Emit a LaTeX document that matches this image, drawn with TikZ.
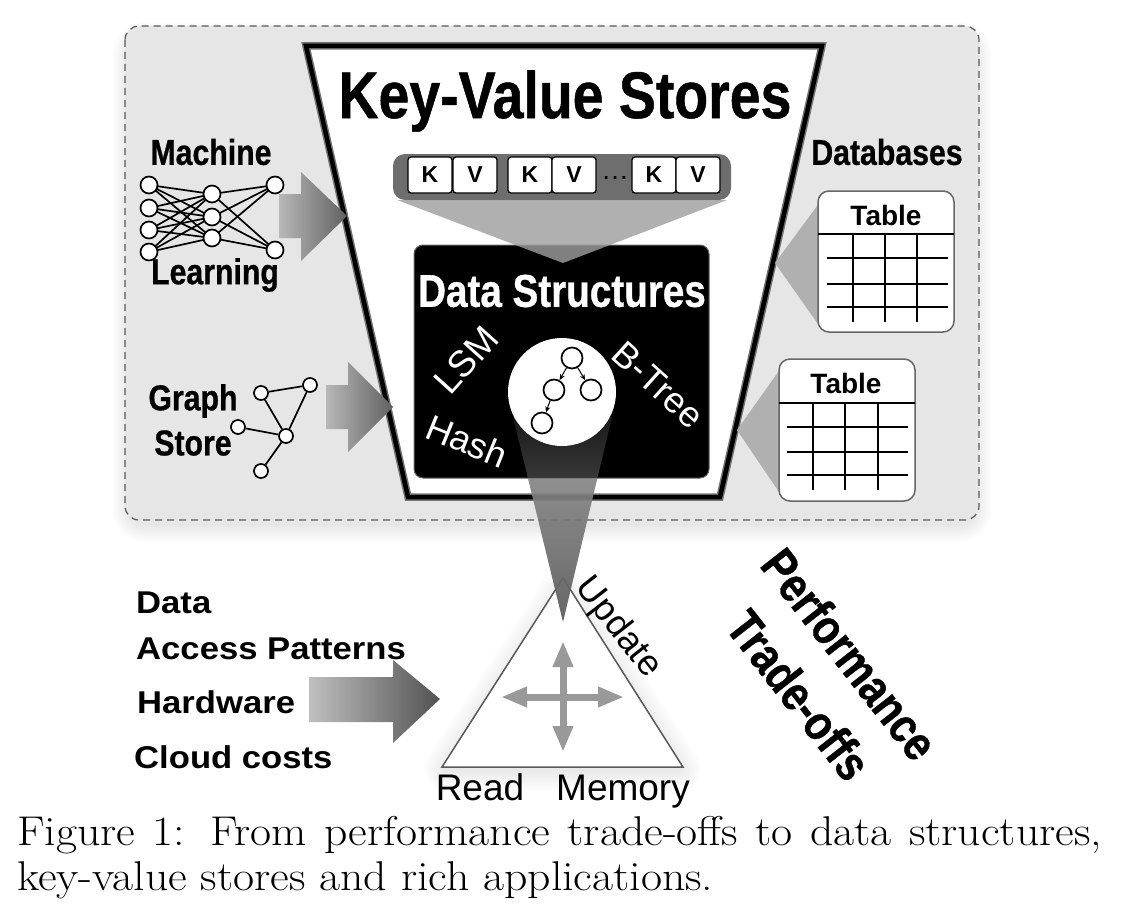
\documentclass[tikz,border=0pt]{standalone}
\usepackage{fontspec}
\usetikzlibrary{arrows.meta,calc}
\newfontfamily\hv{Liberation Sans}
\newfontfamily\hvc[FakeStretch=0.84,BoldFeatures={FakeBold=0.7}]{Liberation Sans}
\newfontfamily\hvb[FakeStretch=1.1]{Liberation Sans}
\newfontfamily\capf[FakeStretch=1.1]{Latin Modern Roman}
\definecolor{boxgray}{HTML}{E6E6E6}
\definecolor{edgegray}{HTML}{666666}
\definecolor{lightcone}{HTML}{B0B0B0}
\tikzset{
 cond/.style={inner sep=0pt,font=\hvc\bfseries\fontsize{#1}{#1}\selectfont},
 plain/.style={inner sep=0pt,font=\hv\fontsize{#1}{#1}\selectfont},
 wide/.style={inner sep=0pt,anchor=west,font=\hvb\bfseries\fontsize{#1}{#1}\selectfont},
 nn/.style={circle,draw=black,fill=white,line width=1.7pt,minimum size=17pt,inner sep=0pt},
 gn/.style={circle,draw=black,fill=white,line width=1.7pt,minimum size=14pt,inner sep=0pt},
 tn/.style={circle,draw=black,fill=white,line width=1.7pt,minimum size=21pt,inner sep=0pt},
 kv/.style={draw=black,fill=white,rounded corners=3pt,line width=1.3pt,minimum width=44pt,minimum height=36pt,inner sep=0pt,font=\hv\bfseries\fontsize{23}{23}\selectfont},
 edge/.style={black,line width=1.7pt},
 grid/.style={black,line width=1.5pt},
 tablebox/.style={draw=edgegray,fill=white,rounded corners=11pt,line width=1.5pt},
 crossarrow/.style={draw=black!40,line width=7pt,{Triangle[length=26pt,width=19pt]}-{Triangle[length=26pt,width=19pt]}},
 captext/.style={inner sep=0pt,anchor=base west,font=\capf\fontsize{41.6}{45}\selectfont},
}
\begin{document}
\begin{tikzpicture}[x=1pt,y=-1pt]
\useasboundingbox (0,0) rectangle (1122,907);
\fill[white] (0,0) rectangle (1122,907);
% soft shadow of the panel
\foreach \w in {3,6,...,36}{
 \draw[black,opacity=.009,line width=\w pt,rounded corners=14pt,line join=round] (130,40) rectangle (974,524);
}
\draw[fill=boxgray,draw=black!65,line width=1.2pt,dash pattern=on 7pt off 5pt,rounded corners=14pt] (125,26) rectangle (979,520);

% funnel
\draw[black!55,line width=7.5pt,fill=white,miter limit=3] (306,46) -- (822,46) -- (720,497) -- (408,497) -- cycle;
\draw[black,line width=4.5pt,miter limit=3] (306,46) -- (822,46) -- (720,497) -- (408,497) -- cycle;
\node[cond=66] (title) at (565,101) {Key-Value Stores};

% KV bar
\fill[black!57,rounded corners=12pt] (393,154) rectangle (731,200);
\node[kv] (k1) at (430,175) {K};
\node[kv] (v1) at (475,175) {V};
\node[kv] (k2) at (530,175) {K};
\node[kv] (v2) at (574,175) {V};
\node[anchor=base,inner sep=0pt,font=\hv\fontsize{28}{28}\selectfont,text=black] (dots) at (615,179) {…};
\node[kv] (k3) at (654,175) {K};
\node[kv] (v3) at (698,175) {V};

% data structure panel
\draw[fill=black,draw=edgegray,line width=1pt,rounded corners=9pt] (414,245) rectangle (709,478);
\fill[black!38,opacity=.81] (397,200) -- (727,200) -- (563,263) -- cycle;
\node[cond=46,text=white] (ds) at (562,291) {Data Structures};
\node[plain=37,text=white,rotate=48] (lsm) at (466,360) {LSM};
\node[plain=36,text=white,rotate=-42] (btree) at (658,385) {B-Tree};
\node[plain=36,text=white,rotate=-22] (hash) at (467,441) {Hash};

% triangle
\foreach \w in {4,8,...,44}{
 \draw[black,opacity=.009,line width=\w pt,line join=round] (563,590) -- (446,769) -- (679,769) -- cycle;
}
\draw[fill=white,draw=black!65,line width=1.5pt,line join=miter] (563,578) -- (442,767) -- (683,767) -- cycle;

% zoom cone
\begin{scope}
\clip (414,417) rectangle (709,478);
\shade[top color=black!90,bottom color=black!50] (513,417) -- (612,417) -- (563,622) -- cycle;
\end{scope}
\begin{scope}
\clip (400,478) rectangle (730,640);
\shade[top color=black!40,bottom color=black!65,opacity=.92] (513,417) -- (612,417) -- (563,622) -- cycle;
\end{scope}
\fill[white] (562,392) circle (54pt);
\node[tn] (root) at (572,358) {};
\node[tn] (left) at (554,390) {};
\node[tn] (right) at (591,390) {};
\node[tn] (leaf) at (542,423) {};
\draw[black,line width=1pt,-{Stealth[length=6pt,width=5pt]}] (root) -- (left);
\draw[black,line width=1pt,-{Stealth[length=6pt,width=5pt]}] (root) -- (right);
\draw[black,line width=1pt,-{Stealth[length=6pt,width=5pt]}] (left) -- (leaf);

% machine learning
\node[cond=36] (ml1) at (211,152) {Machine};
\node[cond=36] (ml2) at (215,275) {Learning};
\foreach \n/\x/\y in {a1/149/185,a2/149/208,a3/149/230,a4/149/252,b1/212/194,b2/212/217,b3/212/238,c1/275/185,c2/275/250}{
 \coordinate (\n) at (\x,\y);
}
\foreach \a in {a1,a2,a3,a4}\foreach \b in {b1,b2,b3}{\draw[edge] (\a) -- (\b);}
\foreach \b in {b1,b2,b3}\foreach \c in {c1,c2}{\draw[edge] (\b) -- (\c);}
\foreach \n in {a1,a2,a3,a4,b1,b2,b3,c1,c2}{\node[nn] at (\n) {};}
\shade[left color=black!28,right color=black!62] (279,194) -- (301,194) -- (301,172) -- (347,216) -- (301,261) -- (301,238) -- (279,238) -- cycle;

% graph store
\node[cond=36] (g1) at (193,401) {Graph};
\node[cond=36] (g2) at (193,443) {Store};
\node[gn] (n1) at (261,393) {};
\node[gn] (n2) at (310,385) {};
\node[gn] (n3) at (238,427) {};
\node[gn] (n4) at (286,436) {};
\node[gn] (n5) at (261,471) {};
\draw[edge] (n1) -- (n2);
\draw[edge] (n1) -- (n4);
\draw[edge] (n2) -- (n4);
\draw[edge] (n3) -- (n4);
\draw[edge] (n5) -- (n4);
\shade[left color=black!28,right color=black!62] (326,385) -- (348,385) -- (348,362) -- (393,407) -- (348,452) -- (348,429) -- (326,429) -- cycle;

% databases
\node[cond=36] (db) at (887,152) {Databases};
\fill[lightcone] (775,263) -- (820,202) -- (820,327) -- cycle;
\draw[tablebox] (818,191) rectangle (954,332);
\node[inner sep=0pt,font=\hv\bfseries\fontsize{28}{28}\selectfont] (t1) at (886,215) {Table};
\draw[grid] (818,234) -- (954,234);
\foreach \x in {853,885,917}{\draw[grid] (\x,234) -- (\x,322);}
\foreach \y in {258,284,307}{\draw[grid] (827,\y) -- (948,\y);}
\fill[lightcone] (737,430) -- (781,368) -- (781,495) -- cycle;
\draw[tablebox] (779,359) rectangle (915,501);
\node[inner sep=0pt,font=\hv\bfseries\fontsize{28}{28}\selectfont] (t2) at (846,383) {Table};
\draw[grid] (779,403) -- (915,403);
\foreach \x in {813,845,878}{\draw[grid] (\x,403) -- (\x,490);}
\foreach \y in {427,452,475}{\draw[grid] (787,\y) -- (908,\y);}

% cross in triangle
\coordinate (vt) at (563,641);
\coordinate (vb) at (563,752);
\coordinate (hl) at (501,697);
\coordinate (hr) at (624,697);
\draw[crossarrow] (vt) -- (vb);
\draw[crossarrow] (hl) -- (hr);
\node[plain=36,rotate=-52] (upd) at (618,628) {Update};
\node[plain=37,anchor=base] (rd) at (480,800) {Read};
\node[plain=37,anchor=base] (mem) at (623,800) {Memory};

% inputs
\node[wide=31.5] (d1) at (136,603) {Data};
\node[wide=31.5] (d2) at (136,649) {Access Patterns};
\node[wide=31.5] (d3) at (137,702) {Hardware};
\node[wide=31.5] (d4) at (134,757) {Cloud costs};
\shade[left color=black!25,right color=black!68] (309,677) -- (393,677) -- (393,660) -- (440,699) -- (393,743) -- (393,722) -- (309,722) -- cycle;

% performance
\node[cond=49,rotate=-52] (p1) at (850,654) {Performance};
\node[cond=49,rotate=-52] (p2) at (799,695) {Trade-offs};

% caption
\node[captext] (cap1) at (17,845) {\makebox[1085pt][s]{Figure 1: From performance trade-offs to data structures,}};
\node[captext] (cap2) at (17,890) {key-value stores and rich applications.};
\end{tikzpicture}
\end{document}
